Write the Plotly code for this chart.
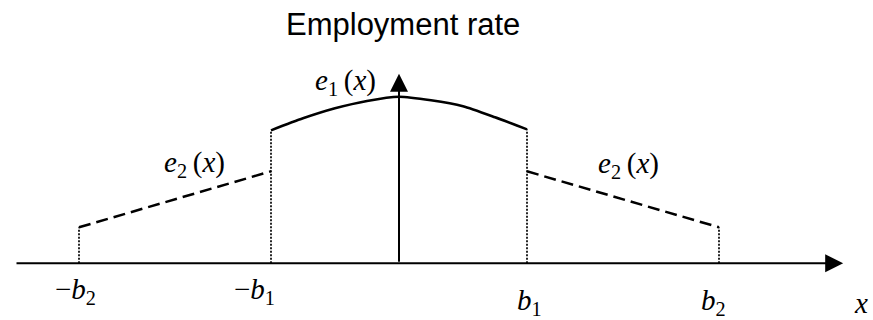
import plotly.graph_objects as go

# ---- data (x in units of b1; y = employment rate, arbitrary units) ----
B1 = 1.0
B2 = 2.5
e1_x = [-1.0, -0.75, -0.5, -0.25, 0.0, 0.25, 0.5, 0.75, 1.0]
e1_y = [0.665, 0.725, 0.775, 0.812, 0.833, 0.815, 0.785, 0.73, 0.67]
e2_left_x = [-2.5, -1.0]
e2_left_y = [0.18, 0.46]
e2_right_x = [1.0, 2.5]
e2_right_y = [0.46, 0.18]
tick_x = [-B2, -B1, B1, B2]
tick_labels = ["\u2212<i>b</i><sub>2</sub>", "\u2212<i>b</i><sub>1</sub>",
               "<i>b</i><sub>1</sub>", "<i>b</i><sub>2</sub>"]
axis_x_min, axis_x_max = -3.0, 3.47
axis_y_max = 0.948

SERIF = "Liberation Serif, Times New Roman, serif"
SANS = "Liberation Sans, Arial, sans-serif"
FS = 29

fig = go.Figure()

# e1 solid curve
fig.add_trace(go.Scatter(x=e1_x, y=e1_y, mode="lines",
                         line=dict(color="black", width=2.5, shape="spline", smoothing=0.6),
                         hoverinfo="skip", showlegend=False))
# e2 dashed segments
for xs, ys in [(e2_left_x, e2_left_y), (e2_right_x, e2_right_y)]:
    fig.add_trace(go.Scatter(x=xs, y=ys, mode="lines",
                             line=dict(color="black", width=2.5, dash="12px,6px"),
                             hoverinfo="skip", showlegend=False))
# dotted verticals
dot_tops = [e2_left_y[0], e1_y[0], e1_y[-1], e2_right_y[-1]]
for tx, ty in zip(tick_x, dot_tops):
    fig.add_trace(go.Scatter(x=[tx, tx], y=[0, ty], mode="lines",
                             line=dict(color="black", width=1.7, dash="2px,1.5px"),
                             hoverinfo="skip", showlegend=False))

annotations = []
# axes with arrowheads
annotations.append(dict(x=axis_x_max, y=0, ax=axis_x_min, ay=0, xref="x", yref="y",
                        axref="x", ayref="y", text="", showarrow=True,
                        arrowhead=2, arrowsize=1.8, arrowwidth=2, arrowcolor="black"))
annotations.append(dict(x=0, y=axis_y_max, ax=0, ay=0, xref="x", yref="y",
                        axref="x", ayref="y", text="", showarrow=True,
                        arrowhead=2, arrowsize=1.8, arrowwidth=2, arrowcolor="black"))

# title
annotations.append(dict(x=0.035, y=1.0, xref="x", yref="paper", yanchor="top",
                        yshift=-5, text="Employment rate", showarrow=False,
                        font=dict(family=SANS, size=31, color="black")))

# tick labels
shifts = [-4, -17, 2, -6]
ylab = [-0.14, -0.14, -0.195, -0.195]
for tx, lab, sh, yl in zip(tick_x, tick_labels, shifts, ylab):
    annotations.append(dict(x=tx, y=yl, xref="x", yref="y", xshift=sh,
                            text=lab, showarrow=False, yanchor="middle",
                            font=dict(family=SERIF, size=FS, color="black")))
annotations.append(dict(x=axis_x_max, y=-0.2, xref="x", yref="y", xshift=18,
                        text="<i>x</i>", showarrow=False, yanchor="middle",
                        font=dict(family=SERIF, size=FS, color="black")))

# curve labels
annotations.append(dict(x=-0.42, y=0.905, xref="x", yref="y",
                        text="<i>e</i><sub>1</sub>\u2009(<i>x</i>)", showarrow=False,
                        font=dict(family=SERIF, size=FS, color="black")))
annotations.append(dict(x=-1.595, y=0.495, xref="x", yref="y",
                        text="<i>e</i><sub>2</sub>\u2009(<i>x</i>)", showarrow=False,
                        font=dict(family=SERIF, size=FS, color="black")))
annotations.append(dict(x=1.795, y=0.49, xref="x", yref="y",
                        text="<i>e</i><sub>2</sub>\u2009(<i>x</i>)", showarrow=False,
                        font=dict(family=SERIF, size=FS, color="black")))

fig.update_layout(
    width=873, height=320,
    margin=dict(l=0, r=0, t=0, b=0),
    paper_bgcolor="white", plot_bgcolor="white",
    xaxis=dict(range=[-399 / 128, 474 / 128], visible=False, fixedrange=True),
    yaxis=dict(range=[-(320 - 263.3) / 200, 263.3 / 200], visible=False, fixedrange=True),
    annotations=annotations,
    showlegend=False,
)

fig.write_html("out.html", config={"displayModeBar": False},
               post_script="document.body.style.margin='0';document.body.style.padding='0';")
